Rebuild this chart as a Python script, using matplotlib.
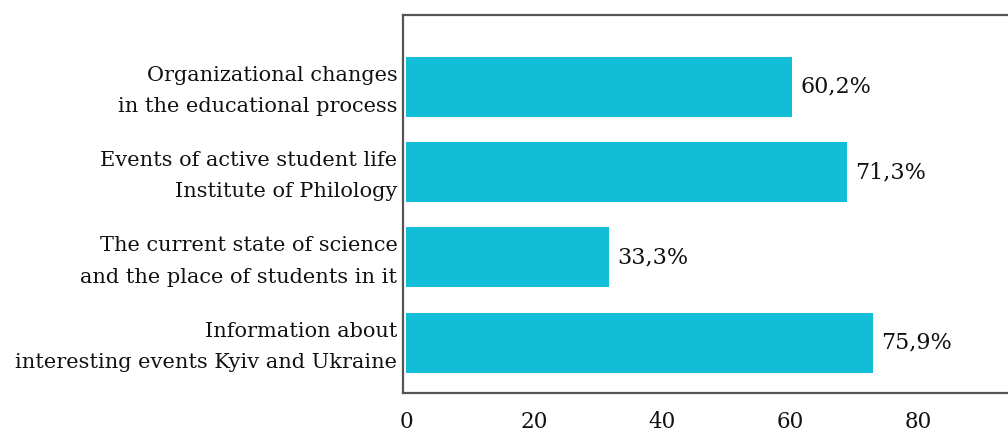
import matplotlib
matplotlib.use("Agg")
import matplotlib.pyplot as plt
import matplotlib.transforms as mtransforms

# categories, bottom to top
categories = [
    "Information about\ninteresting events Kyiv and Ukraine",
    "The current state of science\nand the place of students in it",
    "Events of active student life\nInstitute of Philology",
    "Organizational changes\nin the educational process",
]
# bar lengths as drawn in the picture
bar_lengths = [72.9, 31.7, 68.8, 60.2]
value_labels = ["75,9%", "33,3%", "71,3%", "60,2%"]
xticks = [0, 20, 40, 60, 80]

plt.rcParams['font.family'] = ['DejaVu Serif']

fig = plt.figure(figsize=(10.08, 4.33), dpi=100)
ax = fig.add_axes([0.3998, 0.0924, 0.6012, 0.873])

ypos = list(range(len(categories)))
ax.barh(ypos, bar_lengths, height=0.7, color='#12bdd8')

for y, v, lab in zip(ypos, bar_lengths, value_labels):
    ax.annotate(lab, (v, y), xytext=(6, 0), textcoords='offset points',
                va='center', ha='left', fontsize=16, color='#111111')

ax.set_yticks(ypos)
ax.set_yticklabels(categories, fontsize=15, color='#111111', linespacing=1.82)
ax.set_xticks(xticks)
ax.set_xticklabels([str(t) for t in xticks], fontsize=15.5, color='#111111')
ax.tick_params(axis='y', length=0, pad=4)
ax.tick_params(axis='x', length=0, pad=13)

# nudge category labels up a little
shift = mtransforms.ScaledTranslation(0, 4 / 100, fig.dpi_scale_trans)
for lbl in ax.get_yticklabels():
    lbl.set_transform(lbl.get_transform() + shift)

ax.set_xlim(-0.5, 94.1)
ax.set_ylim(-0.59, 3.84)

for s in ['top', 'bottom', 'left']:
    ax.spines[s].set_color('#555555')
    ax.spines[s].set_linewidth(1.6)
ax.spines['right'].set_visible(False)

fig.savefig("out.png", dpi=100)
